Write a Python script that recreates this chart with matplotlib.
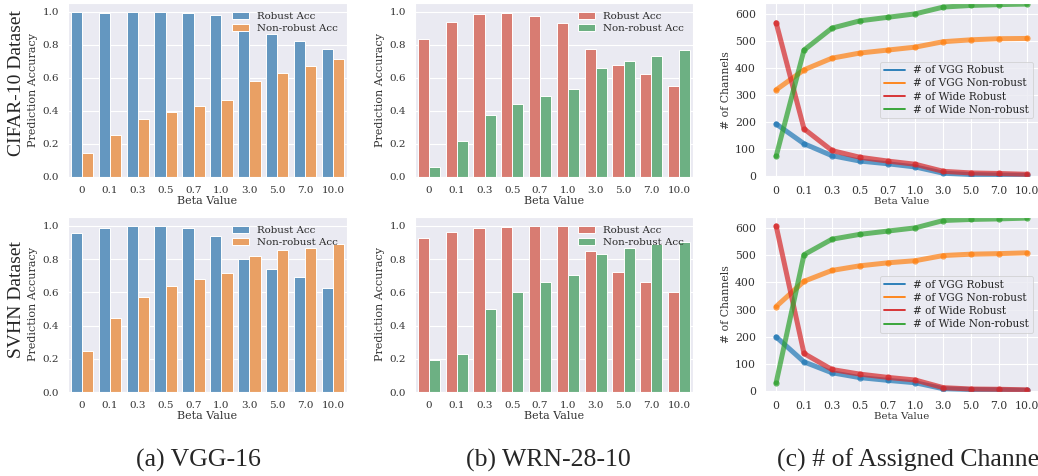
import numpy as np
import matplotlib.pyplot as plt
import seaborn as sns
from matplotlib.lines import Line2D

# ------------------------------------------------------------
# data
# ------------------------------------------------------------
betas = ["0", "0.1", "0.3", "0.5", "0.7", "1.0", "3.0", "5.0", "7.0", "10.0"]

# CIFAR-10
cifar_vgg_robust = [1.0, 0.994, 1.0, 1.0, 0.99, 0.98, 0.90, 0.865, 0.826, 0.774]
cifar_vgg_nonrobust = [0.143, 0.253, 0.35, 0.396, 0.43, 0.467, 0.578, 0.632, 0.671, 0.713]
cifar_wrn_robust = [0.838, 0.935, 0.986, 0.99, 0.974, 0.93, 0.772, 0.679, 0.622, 0.55]
cifar_wrn_nonrobust = [0.061, 0.218, 0.374, 0.444, 0.489, 0.531, 0.659, 0.705, 0.735, 0.77]

cifar_ch_vgg_robust = [192, 119, 75, 55, 45, 33, 10, 5, 3, 2]
cifar_ch_vgg_nonrobust = [318, 392, 435, 454, 465, 476, 496, 503, 507, 508]
cifar_ch_wide_robust = [566, 174, 94, 69, 55, 43, 17, 11, 9, 6]
cifar_ch_wide_nonrobust = [73, 465, 546, 573, 586, 599, 624, 630, 633, 635]

# SVHN
svhn_vgg_robust = [0.954, 0.984, 1.0, 1.0, 0.984, 0.94, 0.80, 0.739, 0.693, 0.626]
svhn_vgg_nonrobust = [0.245, 0.446, 0.572, 0.637, 0.679, 0.719, 0.82, 0.853, 0.869, 0.89]
svhn_wrn_robust = [0.928, 0.96, 0.984, 0.992, 0.996, 0.996, 0.847, 0.721, 0.663, 0.604]
svhn_wrn_nonrobust = [0.195, 0.227, 0.498, 0.604, 0.659, 0.705, 0.833, 0.867, 0.888, 0.90]

svhn_ch_vgg_robust = [199, 107, 67, 49, 39, 30, 8, 5, 4, 2]
svhn_ch_vgg_nonrobust = [311, 404, 444, 461, 472, 480, 499, 504, 506, 509]
svhn_ch_wide_robust = [608, 138, 79, 62, 50, 40, 12, 7, 6, 4]
svhn_ch_wide_nonrobust = [30, 502, 559, 577, 589, 601, 628, 632, 634, 637]

row_labels = ["CIFAR-10 Dataset", "SVHN Dataset"]
captions = ["(a) VGG-16", "(b) WRN-28-10", "(c) # of Assigned Channels"]
bar_labels = ["Robust Acc", "Non-robust Acc"]
line_labels = ["# of VGG Robust", "# of VGG Non-robust", "# of Wide Robust", "# of Wide Non-robust"]

# ------------------------------------------------------------
# style
# ------------------------------------------------------------
sns.set_style("darkgrid")
plt.rcParams["font.family"] = ["DejaVu Serif"]
plt.rcParams["axes.labelcolor"] = "#333333"
plt.rcParams["xtick.color"] = "#333333"
plt.rcParams["ytick.color"] = "#333333"

TICK_FS = 7.5
LABEL_FS = 8.0
LEG_FS = 7.4

col_blue = "#6497c0"
col_orange = "#e9a064"
col_red = "#d87c72"
col_green = "#6db083"


def bar_panel(ax, robust, nonrobust, c1, c2):
    x = np.arange(len(betas))
    w = 0.4
    ax.bar(x - w / 2, robust, width=w, color=c1, edgecolor="white", linewidth=0.7, label=bar_labels[0])
    ax.bar(x + w / 2, nonrobust, width=w, color=c2, edgecolor="white", linewidth=0.7, label=bar_labels[1])
    ax.set_xlim(-0.5, len(betas) - 0.5)
    ax.set_ylim(0, 1.053)
    ax.set_yticks([0.0, 0.2, 0.4, 0.6, 0.8, 1.0])
    ax.set_xticks(x)
    ax.set_xticklabels(betas)
    ax.xaxis.grid(False)
    ax.tick_params(labelsize=TICK_FS, pad=3)
    ax.set_xlabel("Beta Value", fontsize=LABEL_FS, labelpad=1)
    ax.set_ylabel("Prediction Accuracy", fontsize=LABEL_FS, labelpad=3)
    ax.legend(loc="upper right", frameon=False, fontsize=LEG_FS,
              handlelength=1.6, handleheight=0.6, labelspacing=0.3)


def line_panel(ax, series, ylim):
    x = np.arange(len(betas))
    cols = ["tab:blue", "tab:orange", "tab:red", "tab:green"]
    for y, c in zip(series, cols):
        ax.plot(x, y, color=c, lw=3.6, alpha=0.7, marker="o", ms=4.5, mec=c, mew=0,
                solid_capstyle="round")
    ax.set_xlim(-0.4, 9.4)
    ax.set_ylim(*ylim)
    ax.set_yticks([0, 100, 200, 300, 400, 500, 600])
    ax.set_xticks(x)
    ax.set_xticklabels(betas)
    ax.tick_params(labelsize=TICK_FS + 0.3, pad=3)
    ax.set_xlabel("Beta Value", fontsize=LABEL_FS - 0.6, labelpad=1)
    ax.set_ylabel("# of Channels", fontsize=LABEL_FS - 0.2, labelpad=3)
    handles = [Line2D([0], [0], color=c, lw=1.3) for c in cols]
    leg = ax.legend(handles, line_labels, loc="center right", fontsize=LEG_FS + 0.2,
                    frameon=True, framealpha=0.8, edgecolor="#cccccc",
                    handlelength=2.0, labelspacing=0.3, borderpad=0.35)
    leg.get_frame().set_linewidth(0.6)


fig = plt.figure(figsize=(10.38, 4.76), dpi=100)
W, H = 1038.0, 476.0

rows = [(3, 177), (217, 392)]
cols_px = [(68, 347), (415, 693), (765, 1038)]


def add_ax(r, c):
    top, bot = rows[r]
    left, right = cols_px[c]
    return fig.add_axes([left / W, 1 - bot / H, (right - left) / W, (bot - top) / H])


ax = add_ax(0, 0)
bar_panel(ax, cifar_vgg_robust, cifar_vgg_nonrobust, col_blue, col_orange)
ax = add_ax(0, 1)
bar_panel(ax, cifar_wrn_robust, cifar_wrn_nonrobust, col_red, col_green)
ax = add_ax(0, 2)
line_panel(ax, [cifar_ch_vgg_robust, cifar_ch_vgg_nonrobust,
                cifar_ch_wide_robust, cifar_ch_wide_nonrobust], (-4, 639))

ax = add_ax(1, 0)
bar_panel(ax, svhn_vgg_robust, svhn_vgg_nonrobust, col_blue, col_orange)
ax = add_ax(1, 1)
bar_panel(ax, svhn_wrn_robust, svhn_wrn_nonrobust, col_red, col_green)
ax = add_ax(1, 2)
line_panel(ax, [svhn_ch_vgg_robust, svhn_ch_vgg_nonrobust,
                svhn_ch_wide_robust, svhn_ch_wide_nonrobust], (-4, 641))

# row labels and captions (Times-like)
fig.text(17 / W, 1 - 83 / H, row_labels[0], rotation=90, ha="center", va="center",
         fontsize=14, family="Liberation Serif")
fig.text(17 / W, 1 - 300 / H, row_labels[1], rotation=90, ha="center", va="center",
         fontsize=14, family="Liberation Serif")

fig.text(198 / W, 1 - 460 / H, captions[0], ha="center", va="center",
         fontsize=18.5, family="Liberation Serif")
fig.text(548 / W, 1 - 460 / H, captions[1], ha="center", va="center",
         fontsize=18.5, family="Liberation Serif")
fig.text(777 / W, 1 - 460 / H, captions[2], ha="left", va="center",
         fontsize=18.5, family="Liberation Serif")

fig.savefig("out.png", dpi=100)
